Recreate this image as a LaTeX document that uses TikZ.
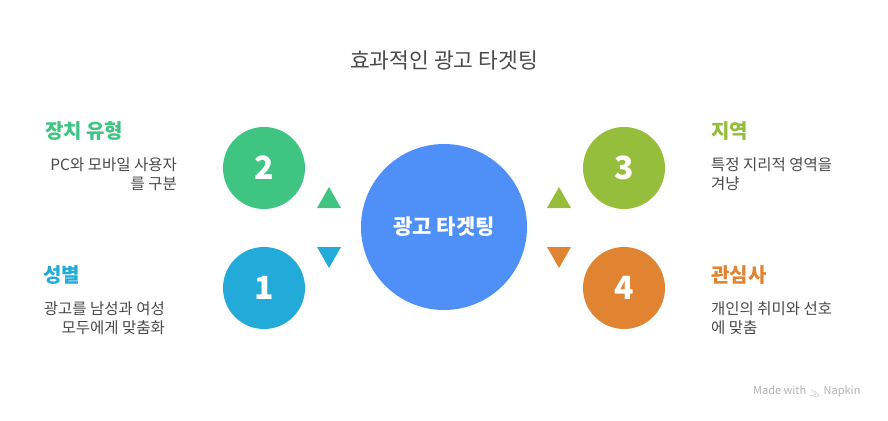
\documentclass[tikz,border=0pt]{standalone}
\usepackage{fontspec}
\setmainfont{Noto Sans CJK KR}
\usetikzlibrary{positioning}
\definecolor{HubBlue}{HTML}{4F8FF8}
\definecolor{DevGreen}{HTML}{3FC482}
\definecolor{SexBlue}{HTML}{22AAD9}
\definecolor{GeoGreen}{HTML}{96BD3B}
\definecolor{HobbyOrange}{HTML}{E08432}
\definecolor{TextGray}{HTML}{4A4A4A}

\begin{document}
\begin{tikzpicture}[x=1pt,y=-1pt,
  hub/.style={circle,fill=HubBlue,minimum size=166pt,inner sep=0pt,text=white,font=\fontsize{21}{24}\selectfont\bfseries},
  num/.style={circle,fill=#1,minimum size=82pt,inner sep=0pt,text=white,font=\fontsize{32}{34}\selectfont\bfseries},
  head/.style={text=#1,inner sep=0pt,font=\fontsize{20}{24}\selectfont\bfseries},
  desc/.style={text=TextGray,inner sep=0pt,font=\fontsize{15.5}{19.5}\selectfont},
  tri/.style={fill=#1}]
\useasboundingbox (0,0) rectangle (888,420);
\def\tw{12}
\def\th{21}

\node[text=TextGray,font=\fontsize{21.5}{24}\selectfont] (title) at (444,60) {효과적인 광고 타겟팅};

\node[hub] (hub) at (444,227) {광고 타겟팅};

\node[num=DevGreen] (n2) at (264,168) {2};
\node[num=SexBlue] (n1) at (264,288) {1};
\node[num=GeoGreen] (n3) at (624,168) {3};
\node[num=HobbyOrange] (n4) at (624,288) {4};

% left side
\node[head=DevGreen,anchor=west] (h2) at (45,131) {장치 유형};
\node[desc,anchor=north east,align=right] (d2) at (177,157) {PC와 모바일 사용자\\를 구분};
\node[head=SexBlue,anchor=west] (h1) at (43,275) {성별};
\node[desc,anchor=north east,align=right] (d1) at (165,301) {광고를 남성과 여성\\모두에게 맞춤화};

% right side
\node[head=GeoGreen,anchor=west] (h3) at (711,131) {지역};
\node[desc,anchor=north west,align=left] (d3) at (711,157) {특정 지리적 영역을\\겨냥};
\node[head=HobbyOrange,anchor=west] (h4) at (711,275) {관심사};
\node[desc,anchor=north west,align=left] (d4) at (711,301) {개인의 취미와 선호\\에 맞춤};

% pointers
\coordinate (t2) at (329,187);
\coordinate (t1) at (329,268);
\coordinate (t3) at (559,187);
\coordinate (t4) at (559,268);
\fill[tri=DevGreen] (t2) -- ++(\tw,\th) -- ++(-2*\tw,0) -- cycle;
\fill[tri=SexBlue] (t1) -- ++(\tw,-\th) -- ++(-2*\tw,0) -- cycle;
\fill[tri=GeoGreen] (t3) -- ++(\tw,\th) -- ++(-2*\tw,0) -- cycle;
\fill[tri=HobbyOrange] (t4) -- ++(\tw,-\th) -- ++(-2*\tw,0) -- cycle;

\node[text=black!30,font=\fontsize{11}{13}\selectfont,anchor=east] (napkin) at (864,393) {Made with \raisebox{-1pt}{\rotatebox{-20}{$\gg$}} Napkin};
\end{tikzpicture}
\end{document}
